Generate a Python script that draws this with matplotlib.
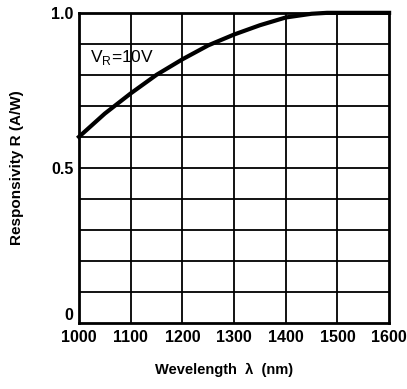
import matplotlib
matplotlib.use("Agg")
import matplotlib.pyplot as plt

wavelength = [1000, 1050, 1100, 1150, 1200, 1250, 1300, 1350, 1400, 1450, 1480, 1500, 1550, 1600]
responsivity = [0.60, 0.675, 0.74, 0.80, 0.85, 0.895, 0.93, 0.96, 0.985, 0.997, 1.0, 1.0, 1.0, 1.0]

x_ticks = [1000, 1100, 1200, 1300, 1400, 1500, 1600]
y_grid = [0.1 * i for i in range(11)]
y_ticks = [0, 0.5, 1.0]
y_labels = ["0", "0.5", "1.0"]

plt.rcParams["font.family"] = ["Liberation Sans", "DejaVu Sans"]

fig = plt.figure(figsize=(4.07, 3.89), dpi=100)
ax = fig.add_axes([0.194, 0.170, 0.762, 0.797])

ax.set_xlim(1000, 1600)
ax.set_ylim(0, 1.0)

for x in x_ticks[1:-1]:
    ax.axvline(x, color="black", lw=1.3, zorder=1)
for y in y_grid[1:-1]:
    ax.axhline(y, color="black", lw=1.3, zorder=1)

ax.plot(wavelength, responsivity, color="black", lw=3, zorder=3, clip_on=False)

ax.set_xticks(x_ticks)
ax.set_xticklabels([str(x) for x in x_ticks], fontsize=11.5, fontweight="bold")
ax.set_yticks(y_ticks)
ax.set_yticklabels(y_labels, fontsize=11.5, fontweight="bold")
ax.tick_params(axis="x", length=0, pad=5)
ax.tick_params(axis="y", length=0, pad=4)
ax.get_yticklabels()[0].set_va("bottom")

for s in ax.spines.values():
    s.set_linewidth(2)

ax.text(1022, 0.855, r"V$_\mathregular{R}$=10V", fontsize=12.5, va="center")

fig.text(0.042, 0.568, "Responsivity R (A/W)", fontsize=11, fontweight="bold",
         rotation=90, ha="center", va="center")
fig.text(0.551, 0.049, "Wevelength  \u03bb  (nm)", fontsize=10.5, fontweight="bold",
         ha="center", va="center")

fig.savefig("out.png", dpi=100)
